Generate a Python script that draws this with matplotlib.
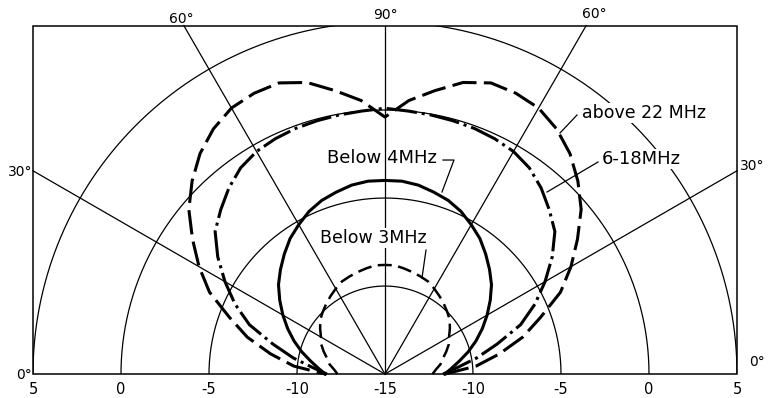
import numpy as np
import matplotlib
matplotlib.use("Agg")
import matplotlib.pyplot as plt
from matplotlib.patches import Rectangle

# ---- data (relative level in dB vs elevation angle, symmetric about 90 deg) ----
elev_deg = [0, 5, 10, 15, 20, 25, 30, 35, 40, 45, 50, 55, 60, 65, 70, 75, 80, 85, 90]
db_below3 = [-12.3, -12.1, -11.8, -11.6, -11.3, -11.0, -10.8, -10.5, -10.2, -10.0,
             -9.8, -9.6, -9.4, -9.2, -9.1, -9.0, -8.9, -8.8, -8.8]
db_below4 = [-11.6, -11.2, -10.7, -10.1, -9.5, -8.9, -8.3, -7.7, -7.1, -6.6,
             -6.1, -5.6, -5.2, -4.8, -4.5, -4.3, -4.1, -4.0, -4.0]
db_6_18 = [-11.7, -10.9, -9.7, -8.4, -6.8, -5.6, -4.5, -3.4, -2.4, -1.8,
           -1.2, -0.7, -0.4, -0.25, -0.15, -0.1, -0.05, 0.0, 0.1]
db_above22 = [-11.6, -9.8, -8.4, -6.9, -5.6, -4.0, -2.8, -1.65, -0.45, 0.5,
              1.35, 2.0, 2.45, 2.6, 2.6, 2.15, 1.35, 0.6, -0.4]

center_db = -15
ring_db = [-10, -5, 0, 5]
axis_tick_db = [5, 0, -5, -10, -15, -10, -5, 0, 5]
spoke_deg = [30, 60, 90, 120, 150]

# ---- geometry helpers ----
R_MAX = 20.0      # radius (in dB units from center) of the outermost ring
BOX_TOP = 19.8


def pattern_xy(elev, db):
    elev = np.asarray(elev, float)
    db = np.asarray(db, float)
    th = np.concatenate([elev, 180 - elev[::-1][1:]])
    d = np.concatenate([db, db[::-1][1:]])
    r = d - center_db
    t = np.radians(th)
    return r * np.cos(t), r * np.sin(t)


fig = plt.figure(figsize=(7.78, 3.98), dpi=100)
ax = fig.add_axes([0, 0, 1, 1])
ax.set_xlim(-21.875, 22.33)
ax.set_ylim(-1.36, 21.25)
ax.axis("off")

grid_kw = dict(color="black", lw=0.9)

box = Rectangle((-R_MAX, 0), 2 * R_MAX, BOX_TOP, fill=False, edgecolor="black", lw=1.1, zorder=3)
ax.add_patch(box)
clip = Rectangle((-R_MAX, 0), 2 * R_MAX, BOX_TOP, transform=ax.transData, visible=False)
ax.add_patch(clip)

# rings
tt = np.radians(np.linspace(0, 180, 400))
for d in ring_db:
    r = d - center_db
    ln, = ax.plot(r * np.cos(tt), r * np.sin(tt), **grid_kw, zorder=1)
    ln.set_clip_path(clip)

# spokes
for a in spoke_deg:
    t = np.radians(a)
    c, s = np.cos(t), np.sin(t)
    lim = min(R_MAX / abs(c) if abs(c) > 1e-9 else 1e9, BOX_TOP / s)
    ax.plot([0, lim * c], [0, lim * s], **grid_kw, zorder=1)

# patterns
lw_thick = 2.2
x, y = pattern_xy(elev_deg, db_above22)
ax.plot(x, y, color="black", lw=lw_thick, dashes=(8.0, 2.4), zorder=4)
x, y = pattern_xy(elev_deg, db_6_18)
ax.plot(x, y, color="black", lw=lw_thick, dashes=(10, 1.6, 1.0, 1.6), zorder=4)
x, y = pattern_xy(elev_deg, db_below4)
ax.plot(x, y, color="black", lw=lw_thick, zorder=4)
x, y = pattern_xy(elev_deg, db_below3)
ax.plot(x, y, color="black", lw=1.8, dashes=(5.6, 2.6), zorder=4)

# bottom scale labels
ring_x = np.linspace(-R_MAX, R_MAX, len(axis_tick_db))
for xv, lab in zip(ring_x, axis_tick_db):
    ax.text(xv, -0.9, str(lab), ha="center", va="center", fontsize=10.5)

# angle labels
ax.text(-20.05, -0.05, "0°", ha="right", va="center", fontsize=10)
ax.text(-20.05, 11.5, "30°", ha="right", va="center", fontsize=10)
ax.text(20.15, 11.8, "30°", ha="left", va="center", fontsize=10)
ax.text(20.7, 0.7, "0°", ha="left", va="center", fontsize=10)
ax.text(-11.6, 20.15, "60°", ha="center", va="center", fontsize=10)
ax.text(0.0, 20.4, "90°", ha="center", va="center", fontsize=10)
ax.text(11.9, 20.45, "60°", ha="center", va="center", fontsize=10)

# curve labels
wb = dict(facecolor="white", edgecolor="none", pad=1.0)
ax.text((582 - 385) / 17.6, (374 - 113) / 17.6, "above 22 MHz", ha="left", va="center",
        fontsize=12.5, bbox=wb, zorder=5)
ax.text((602 - 385) / 17.6, (374 - 159) / 17.6, "6-18MHz", ha="left", va="center",
        fontsize=13, bbox=wb, zorder=5)
ax.text((327 - 385) / 17.6, (374 - 158) / 17.6, "Below 4MHz", ha="left", va="center",
        fontsize=13, zorder=5)
ax.text((320 - 385) / 17.6, (374 - 238) / 17.6, "Below 3MHz", ha="left", va="center",
        fontsize=12.5, bbox=wb, zorder=5)


def px(p):
    return (p[0] - 385) / 17.6, (374 - p[1]) / 17.6


def leader(points):
    pts = [px(p) for p in points]
    ax.plot([p[0] for p in pts], [p[1] for p in pts], color="black", lw=0.9, zorder=5)


leader([(577, 115), (560, 133)])
leader([(598, 162), (547, 192)])
leader([(443, 160), (454, 160), (442, 192)])
leader([(426, 250), (422, 278)])

fig.savefig("out.png", dpi=100)
